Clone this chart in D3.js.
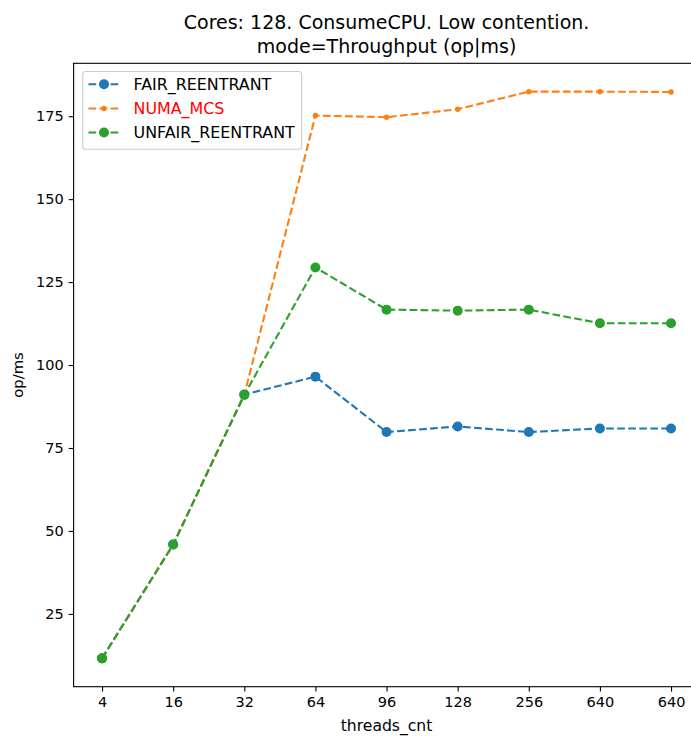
<!DOCTYPE html>
<html>
<head>
<meta charset="utf-8">
<script src="https://cdn.jsdelivr.net/npm/d3@7"></script>
<style>
  body { margin: 0; background: #fff; }
  text { font-family: "DejaVu Sans", sans-serif; fill: #000; }
</style>
</head>
<body>
<div id="chart"></div>
<script>
// Thread counts shown on the x axis (the last label repeats in the source)
const threadLabels = ['4', '16', '32', '64', '96', '128', '256', '640', '640'];

// op/ms per lock type
const fairReentrant = [11.6, 45.9, 91.1, 96.5, 79.8, 81.5, 79.8, 80.9, 80.9];
const numaMcs = [11.6, 45.9, 91.0, 175.2, 174.7, 177.1, 182.4, 182.4, 182.3];
const unfairReentrant = [11.6, 45.9, 91.0, 129.4, 116.7, 116.4, 116.7, 112.6, 112.6];

const seriesNames = ['FAIR_REENTRANT', 'NUMA_MCS', 'UNFAIR_REENTRANT'];
const seriesColors = ['#1f77b4', '#ff7f0e', '#2ca02c'];

const width = 691;
const height = 736;
const margin = { top: 63.3, left: 73.6, right: 699.5, bottom: 686.7 };

const series = [
  { name: seriesNames[0], values: fairReentrant, color: seriesColors[0], r: 5 },
  { name: seriesNames[1], values: numaMcs, color: seriesColors[1], r: 2.7 },
  { name: seriesNames[2], values: unfairReentrant, color: seriesColors[2], r: 5 }
];

const svg = d3.select('#chart')
  .append('svg')
  .attr('width', width)
  .attr('height', height);

// matplotlib-like 5% padding on both axes
const n = threadLabels.length;
const xScale = d3.scaleLinear()
  .domain([-0.05 * (n - 1), (n - 1) * 1.05])
  .range([margin.left, margin.right]);

const allValues = fairReentrant.concat(numaMcs, unfairReentrant);
const yMin = d3.min(allValues);
const yMax = d3.max(allValues);
const pad = (yMax - yMin) * 0.05;
const yScale = d3.scaleLinear()
  .domain([yMin - pad, yMax + pad])
  .range([margin.bottom, margin.top]);

const fontSize = 14.5;
const labelSize = 15.6;

// Axes
const xAxis = d3.axisBottom(xScale)
  .tickValues(d3.range(n))
  .tickFormat(i => threadLabels[i])
  .tickSizeInner(4.9)
  .tickSizeOuter(0)
  .tickPadding(4.9);

const yAxis = d3.axisLeft(yScale)
  .tickValues([25, 50, 75, 100, 125, 150, 175])
  .tickSizeInner(4.9)
  .tickSizeOuter(0)
  .tickPadding(4.9);

const xAxisGroup = svg.append('g')
  .attr('transform', `translate(0, ${margin.bottom})`)
  .call(xAxis);

const yAxisGroup = svg.append('g')
  .attr('transform', `translate(${margin.left}, 0)`)
  .call(yAxis);

[xAxisGroup, yAxisGroup].forEach(g => {
  g.select('.domain').remove();
  g.selectAll('line').attr('stroke', '#000').attr('stroke-width', 1.1);
  g.selectAll('text')
    .style('font-family', '"DejaVu Sans", sans-serif')
    .style('font-size', fontSize + 'px')
    .attr('fill', '#000');
});

// Frame
svg.append('rect')
  .attr('x', margin.left)
  .attr('y', margin.top)
  .attr('width', margin.right - margin.left)
  .attr('height', margin.bottom - margin.top)
  .attr('fill', 'none')
  .attr('stroke', '#000')
  .attr('stroke-width', 1.1);

// Lines and markers
const line = d3.line()
  .x((d, i) => xScale(i))
  .y(d => yScale(d));

const plot = svg.append('g').attr('class', 'series');

series.forEach(s => {
  const g = plot.append('g');
  g.append('path')
    .datum(s.values)
    .attr('d', line)
    .attr('fill', 'none')
    .attr('stroke', s.color)
    .attr('stroke-width', 2.08)
    .attr('stroke-dasharray', '7.7,3.33');

  g.selectAll('circle')
    .data(s.values)
    .enter()
    .append('circle')
    .attr('cx', (d, i) => xScale(i))
    .attr('cy', d => yScale(d))
    .attr('r', s.r)
    .attr('fill', s.color);
});

// Title
const titleX = (margin.left + margin.right) / 2;
const title = svg.append('text')
  .attr('text-anchor', 'middle')
  .style('font-size', '19px');
title.append('tspan')
  .attr('x', titleX)
  .attr('y', 29)
  .text('Cores: 128. ConsumeCPU. Low contention.');
title.append('tspan')
  .attr('x', titleX)
  .attr('y', 53)
  .text('mode=Throughput (op|ms)');

// Axis labels
svg.append('text')
  .attr('x', titleX)
  .attr('y', 731)
  .attr('text-anchor', 'middle')
  .style('font-size', labelSize + 'px')
  .text('threads_cnt');

svg.append('text')
  .attr('transform', `translate(23, ${(margin.top + margin.bottom) / 2}) rotate(-90)`)
  .attr('text-anchor', 'middle')
  .style('font-size', '14.8px')
  .text('op/ms');

// Legend
const legend = svg.append('g').attr('class', 'legend');
legend.append('rect')
  .attr('x', 82.7)
  .attr('y', 71.5)
  .attr('width', 219)
  .attr('height', 77.8)
  .attr('rx', 3)
  .attr('fill', '#fff')
  .attr('fill-opacity', 0.8)
  .attr('stroke', '#cccccc')
  .attr('stroke-width', 1.1);

const rowY = [84.3, 108.5, 132.5];
series.forEach((s, i) => {
  const row = legend.append('g').attr('transform', `translate(0, ${rowY[i]})`);
  row.append('line')
    .attr('x1', 88.5)
    .attr('x2', 120)
    .attr('stroke', s.color)
    .attr('stroke-width', 2.08)
    .attr('stroke-dasharray', '7.7,3.33');
  row.append('circle')
    .attr('cx', 104)
    .attr('r', s.r)
    .attr('fill', s.color);
  row.append('text')
    .attr('x', 133.5)
    .attr('dy', '0.36em')
    .style('font-size', '15.9px')
    .style('fill', s.name === 'NUMA_MCS' ? '#ff0000' : '#000')
    .text(s.name);
});
</script>
</body>
</html>
